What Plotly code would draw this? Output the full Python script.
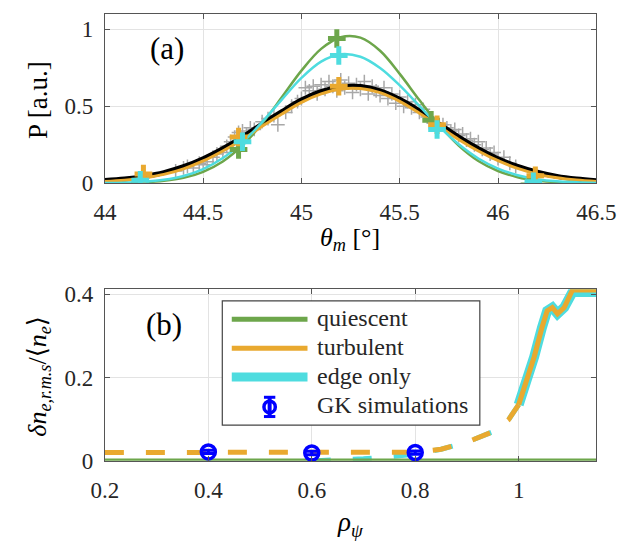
import plotly.graph_objects as go

# ---------------- Panel (a) data ----------------
theta = [44.0, 44.1, 44.2, 44.3, 44.4, 44.5, 44.6, 44.7, 44.8, 44.9, 45.0, 45.1, 45.2,
         45.3, 45.4, 45.5, 45.6, 45.7, 45.8, 45.9, 46.0, 46.1, 46.2, 46.3, 46.4, 46.5]
P_fit = [0.018, 0.028, 0.045, 0.07, 0.108, 0.16, 0.225, 0.30, 0.385, 0.465, 0.54, 0.595, 0.625,
         0.628, 0.60, 0.545, 0.47, 0.385, 0.30, 0.225, 0.16, 0.11, 0.072, 0.045, 0.028, 0.017]
P_quiescent = [0.001, 0.002, 0.006, 0.016, 0.036, 0.075, 0.142, 0.246, 0.388, 0.558, 0.731, 0.872, 0.948,
               0.945, 0.86, 0.71, 0.54, 0.38, 0.245, 0.145, 0.08, 0.04, 0.018, 0.007, 0.003, 0.001]
P_turbulent = [0.012, 0.02, 0.035, 0.058, 0.094, 0.145, 0.21, 0.285, 0.37, 0.45, 0.525, 0.58, 0.612,
               0.615, 0.588, 0.532, 0.455, 0.37, 0.285, 0.21, 0.147, 0.097, 0.06, 0.036, 0.021, 0.012]
P_edge = [0.0015, 0.004, 0.010, 0.023, 0.048, 0.0925, 0.164, 0.266, 0.397, 0.543, 0.684, 0.79, 0.838,
          0.821, 0.748, 0.635, 0.502, 0.369, 0.253, 0.161, 0.096, 0.053, 0.027, 0.013, 0.007, 0.003]

# synthetic-diagnostic points (with error bars)
syn_theta_q = [44.18, 44.68, 45.18, 45.66, 46.16]
syn_P_q = [-0.01, 0.22, 0.94, 0.41, -0.01]
syn_theta_t = [44.196, 44.68, 45.19, 45.69, 46.19]
syn_P_t = [0.06, 0.30, 0.63, 0.38, 0.05]
syn_theta_e = [44.18, 44.70, 45.19, 45.69, 46.18]
syn_P_e = [0.02, 0.27, 0.83, 0.35, 0.01]

# measured data (gray crosses)
meas_theta = [44.36, 44.40, 44.42, 44.45, 44.48, 44.50, 44.52, 44.55, 44.57, 44.60, 44.62, 44.64,
              44.66, 44.68, 44.70, 44.72, 44.74, 44.76, 44.80, 44.83, 44.86, 44.88, 44.92, 44.95,
              44.98, 45.00, 45.02, 45.04, 45.06, 45.08, 45.10, 45.12, 45.14, 45.16, 45.18, 45.20,
              45.22, 45.24, 45.26, 45.28, 45.30, 45.32, 45.34, 45.36, 45.38, 45.40, 45.42, 45.44,
              45.46, 45.48, 45.50, 45.52, 45.54, 45.56, 45.58, 45.60, 45.62, 45.64, 45.66, 45.68,
              45.72, 45.74, 45.76, 45.78, 45.80, 45.82, 45.84, 45.86, 45.88, 45.90, 45.92, 45.94,
              45.96, 45.98, 46.00, 46.03, 46.06, 46.09]
meas_P = [0.08, 0.10, 0.11, 0.10, 0.13, 0.12, 0.14, 0.17, 0.19, 0.20, 0.24, 0.27,
          0.30, 0.33, 0.34, 0.32, 0.36, 0.35, 0.40, 0.42, 0.44, 0.38, 0.46, 0.50,
          0.53, 0.55, 0.62, 0.60, 0.63, 0.58, 0.64, 0.61, 0.66, 0.63, 0.60, 0.67,
          0.62, 0.65, 0.59, 0.64, 0.61, 0.66, 0.58, 0.63, 0.60, 0.57, 0.62, 0.55,
          0.58, 0.52, 0.56, 0.50, 0.53, 0.49, 0.51, 0.46, 0.48, 0.43, 0.41, 0.39,
          0.38, 0.36, 0.34, 0.35, 0.31, 0.32, 0.28, 0.29, 0.25, 0.27, 0.22, 0.23,
          0.19, 0.20, 0.16, 0.17, 0.13, 0.11]

# ---------------- Panel (b) data ----------------
rho_q = [0.2, 1.15]
dn_q = [0.0, 0.0]
rho_t = [0.2, 0.3, 0.4, 0.5, 0.6, 0.7, 0.75, 0.8, 0.85, 0.9, 0.95, 0.98, 1.0,
         1.015, 1.03, 1.045, 1.055, 1.065, 1.075, 1.088, 1.097, 1.104, 1.15]
dn_t = [0.02, 0.02, 0.02, 0.02, 0.02, 0.02, 0.02, 0.021, 0.028, 0.045, 0.07, 0.098, 0.135,
        0.19, 0.25, 0.32, 0.36, 0.368, 0.353, 0.368, 0.395, 0.41, 0.41]
rho_e = [0.6, 0.65, 0.7, 0.75, 0.8, 0.85, 0.9, 0.95, 0.98, 1.0,
         1.015, 1.03, 1.045, 1.055, 1.065, 1.075, 1.088, 1.097, 1.104, 1.15]
dn_e = [0.0, 0.002, 0.005, 0.01, 0.016, 0.028, 0.045, 0.07, 0.098, 0.135,
        0.19, 0.25, 0.32, 0.36, 0.368, 0.353, 0.368, 0.395, 0.405, 0.405]
gk_rho = [0.4, 0.6, 0.8]
gk_dn = [0.0215, 0.019, 0.02]
gk_err = [0.004, 0.004, 0.004]

GREEN = "#6DA64B"
ORANGE = "#E9A92F"
CYAN = "#4EDCDF"
BLUE = "#0000FF"
GRAY = "#A8A8A8"
FONT = "Liberation Serif, DejaVu Serif, Times New Roman, serif"
TXT = "#262626"

fig = go.Figure()

# panel (a)
fig.add_trace(go.Scatter(x=meas_theta, y=meas_P, mode="markers", xaxis="x", yaxis="y",
                         marker=dict(size=1, color="rgba(0,0,0,0)"),
                         error_x=dict(type="constant", value=0.035, thickness=1.5, width=0, color=GRAY),
                         error_y=dict(type="constant", value=0.045, thickness=1.5, width=0, color=GRAY),
                         showlegend=False))
fig.add_trace(go.Scatter(x=theta, y=P_fit, mode="lines", line=dict(color="black", width=5, shape="spline"),
                         xaxis="x", yaxis="y", showlegend=False))
fig.add_trace(go.Scatter(x=theta, y=P_quiescent, mode="lines", line=dict(color=GREEN, width=2.5, shape="spline"),
                         xaxis="x", yaxis="y", showlegend=False))
fig.add_trace(go.Scatter(x=theta, y=P_turbulent, mode="lines", line=dict(color=ORANGE, width=3, shape="spline"),
                         xaxis="x", yaxis="y", showlegend=False))
fig.add_trace(go.Scatter(x=theta, y=P_edge, mode="lines", line=dict(color=CYAN, width=2.5, shape="spline"),
                         xaxis="x", yaxis="y", showlegend=False))
for xs, ys, c in [(syn_theta_q, syn_P_q, GREEN), (syn_theta_t, syn_P_t, ORANGE), (syn_theta_e, syn_P_e, CYAN)]:
    fig.add_trace(go.Scatter(x=xs, y=ys, mode="markers", xaxis="x", yaxis="y", cliponaxis=False,
                             marker=dict(size=1, color="rgba(0,0,0,0)"),
                             error_x=dict(type="constant", value=0.045, thickness=5, width=0, color=c),
                             error_y=dict(type="constant", value=0.06, thickness=5, width=0, color=c),
                             showlegend=False))

# panel (b)
DASH = "19px,22px"
rho_t_d = [r for r in rho_t if r <= 1.0]
dn_t_d = dn_t[:len(rho_t_d)]
rho_t_s = rho_t[len(rho_t_d) - 1:]
dn_t_s = dn_t[len(rho_t_d) - 1:]
rho_e_d = [r for r in rho_e if r <= 1.0]
dn_e_d = dn_e[:len(rho_e_d)]
rho_e_s = rho_e[len(rho_e_d) - 1:]
dn_e_s = dn_e[len(rho_e_d) - 1:]

fig.add_trace(go.Scatter(x=rho_e_d, y=dn_e_d, mode="lines", line=dict(color=CYAN, width=5, dash=DASH),
                         xaxis="x2", yaxis="y2", showlegend=False, cliponaxis=False))
fig.add_trace(go.Scatter(x=rho_e_s, y=dn_e_s, mode="lines", line=dict(color=CYAN, width=10),
                         xaxis="x2", yaxis="y2", showlegend=False, cliponaxis=False))
fig.add_trace(go.Scatter(x=rho_t_d, y=dn_t_d, mode="lines", line=dict(color=ORANGE, width=5, dash=DASH),
                         xaxis="x2", yaxis="y2", showlegend=False))
fig.add_trace(go.Scatter(x=rho_t_s, y=dn_t_s, mode="lines", line=dict(color=ORANGE, width=5),
                         xaxis="x2", yaxis="y2", showlegend=False, cliponaxis=False))
fig.add_trace(go.Scatter(x=rho_q, y=dn_q, mode="lines", line=dict(color=GREEN, width=5),
                         xaxis="x2", yaxis="y2", showlegend=False, cliponaxis=False))
fig.add_trace(go.Scatter(x=gk_rho, y=gk_dn, mode="markers", xaxis="x2", yaxis="y2", cliponaxis=False,
                         marker=dict(symbol="circle-open", size=14, color=BLUE, line=dict(width=3.5, color=BLUE)),
                         error_y=dict(type="data", array=gk_err, thickness=3, width=7, color=BLUE),
                         showlegend=False))

W, H = 639, 550
def px(x):
    return x / W
def py(y):
    return 1 - y / H

axis_common = dict(showline=True, linecolor="#555555", linewidth=1.2, mirror="ticks",
                   ticks="inside", ticklen=5, tickcolor="#555555", tickwidth=1,
                   showgrid=True, gridcolor="#E3E3E3", gridwidth=1, zeroline=False,
                   tickfont=dict(family=FONT, size=23, color=TXT))

fig.update_layout(
    width=W, height=H, margin=dict(l=0, r=0, t=0, b=0),
    paper_bgcolor="white", plot_bgcolor="white",
    font=dict(family=FONT, size=23, color=TXT),
    xaxis=dict(domain=[px(96), px(615)], range=[44, 46.5], anchor="y",
               tickvals=[44, 44.5, 45, 45.5, 46, 46.5], ticktext=["44", "44.5", "45", "45.5", "46", "46.5"],
               ticklabelstandoff=8, **axis_common),
    yaxis=dict(domain=[py(183), py(7)], range=[0, 1.1], anchor="x",
               tickvals=[0, 0.5, 1], ticktext=["0", "0.5", "1"], ticklabelstandoff=6, **axis_common),
    xaxis2=dict(domain=[px(96), px(615)], range=[0.2, 1.15], anchor="y2",
                tickvals=[0.2, 0.4, 0.6, 0.8, 1], ticktext=["0.2", "0.4", "0.6", "0.8", "1"],
                ticklabelstandoff=8, **axis_common),
    yaxis2=dict(domain=[py(471), py(293)], range=[0, 0.4116], anchor="x2",
                tickvals=[0, 0.2, 0.4], ticktext=["0", "0.2", "0.4"], ticklabelstandoff=6, **axis_common),
)

ann = []
def A(text, x, y, size, angle=0, xanchor="center", color="black"):
    ann.append(dict(text=text, x=px(x), y=py(y), xref="paper", yref="paper", showarrow=False,
                    xanchor=xanchor, yanchor="middle", textangle=angle,
                    font=dict(family=FONT, size=size, color=color)))

A("(a)", 162, 43, 31)
A("(b)", 158, 329, 31)
A("P [a.u.]", 26, 97, 27, angle=-90)
A("<i>θ<sub>m</sub></i> [°]", 355, 241, 26)
A("<i>δn<sub>e,r.m.s</sub></i>/⟨<i>n<sub>e</sub></i>⟩", 26, 383, 26, angle=-90)
A("<i>ρ<sub>ψ</sub></i>", 355, 537, 27)

# legend (drawn as layout decorations)
shapes = []
shapes.append(dict(type="rect", xref="paper", yref="paper", x0=px(220), x1=px(492), y0=py(434), y1=py(305),
                   line=dict(color="#444444", width=1.2), fillcolor="white", layer="above"))
legend_rows = [("quiescent", GREEN, 5, 324), ("turbulent", ORANGE, 5, 354), ("edge only", CYAN, 9, 384)]
for name, col, wdt, yy in legend_rows:
    shapes.append(dict(type="line", xref="paper", yref="paper", x0=px(230), x1=px(310), y0=py(yy), y1=py(yy),
                       line=dict(color=col, width=wdt), layer="above"))
    A(name, 318, yy - 1, 24, xanchor="left", color=TXT)
A("GK simulations", 318, 413, 24, xanchor="left", color=TXT)
# GK symbol in legend
cx, cy = 270, 415
shapes.append(dict(type="line", xref="paper", yref="paper", x0=px(cx), x1=px(cx), y0=py(cy - 10), y1=py(cy + 10),
                   line=dict(color=BLUE, width=4), layer="above"))
for yy in (cy - 10, cy + 10):
    shapes.append(dict(type="line", xref="paper", yref="paper", x0=px(cx - 6), x1=px(cx + 6), y0=py(yy), y1=py(yy),
                       line=dict(color=BLUE, width=3), layer="above"))
shapes.append(dict(type="circle", xref="paper", yref="paper", x0=px(cx - 6), x1=px(cx + 6), y0=py(cy + 6), y1=py(cy - 6),
                   line=dict(color=BLUE, width=3.5), layer="above"))

fig.update_layout(annotations=ann, shapes=shapes)
fig.write_html("out.html")
